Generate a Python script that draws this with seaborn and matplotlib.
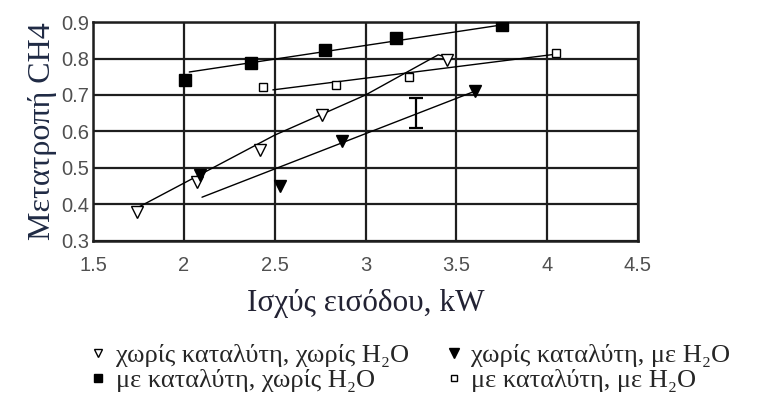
import numpy as np
import pandas as pd
import matplotlib
matplotlib.use("Agg")
import matplotlib.pyplot as plt
import seaborn as sns

# ---- data ----
s1_x = [1.74, 2.07, 2.42, 2.76, 3.45]          # χωρίς καταλύτη, χωρίς H2O (open ▽)
s1_y = [0.38, 0.462, 0.55, 0.645, 0.796]
s2_x = [2.09, 2.53, 2.87, 3.60]                # χωρίς καταλύτη, με H2O (filled ▼)
s2_y = [0.48, 0.45, 0.575, 0.71]
s3_x = [2.005, 2.37, 2.775, 3.17, 3.75]        # με καταλύτη, χωρίς H2O (filled ■)
s3_y = [0.741, 0.787, 0.823, 0.855, 0.892]
s4_x = [2.436, 2.84, 3.24, 4.05]               # με καταλύτη, με H2O (open □)
s4_y = [0.723, 0.727, 0.75, 0.814]

# trend lines as drawn in the figure
t1_x = [1.74, 2.5, 3.0, 3.40, 3.47]
t1_y = [0.39, 0.59, 0.70, 0.81, 0.80]
t2_x = [2.10, 3.60]
t2_y = [0.42, 0.71]
t3_x = [2.03, 3.75]
t3_y = [0.763, 0.892]
t4_x = [2.49, 4.05]
t4_y = [0.714, 0.812]

# error bar
err_x = 3.28
err_lo, err_hi = 0.609, 0.691

labels = ["χωρίς καταλύτη, χωρίς H₂O", "χωρίς καταλύτη, με H₂O",
          "με καταλύτη, χωρίς H₂O", "με καταλύτη, με H₂O"]
x_ticks = [1.5, 2, 2.5, 3, 3.5, 4, 4.5]
x_ticklabels = ["1.5", "2", "2.5", "3", "3.5", "4", "4.5"]
y_ticks = [0.3, 0.4, 0.5, 0.6, 0.7, 0.8, 0.9]
y_ticklabels = ["0.3", "0.4", "0.5", "0.6", "0.7", "0.8", "0.9"]
x_label = "Ισχύς εισόδου, kW"
y_label = "Μετατροπή CH4"

# ---- plot ----
sns.set_theme(style="white")
plt.rcParams["font.family"] = ["Liberation Serif", "DejaVu Serif"]

fig = plt.figure(figsize=(7.64, 4.18), dpi=100)
ax = fig.add_axes([93/764, 1-241/418, (638-93)/764, (241-22)/418])

for tx, ty in [(t1_x, t1_y), (t2_x, t2_y), (t3_x, t3_y), (t4_x, t4_y)]:
    sns.lineplot(x=tx, y=ty, ax=ax, color="black", lw=1.0, sort=False,
                 estimator=None, zorder=3)

styles = [
    (s1_x, s1_y, "v", "white", 8),
    (s2_x, s2_y, "v", "black", 9),
    (s3_x, s3_y, "s", "black", 8),
    (s4_x, s4_y, "s", "white", 6),
]
handles = []
for (sx, sy, m, fc, ms), lab in zip(styles, labels):
    ax.plot(sx, sy, linestyle="none", marker=m, markerfacecolor=fc,
            markeredgecolor="black", markersize=ms, markeredgewidth=1.0, zorder=4)
    h, = ax.plot([], [], linestyle="none", marker=m, markerfacecolor=fc,
                 markeredgecolor="black", markersize=ms*0.75, markeredgewidth=1.0,
                 label=lab)
    handles.append(h)

ax.errorbar([err_x], [(err_lo+err_hi)/2], yerr=[[(err_hi-err_lo)/2]],
            fmt="none", ecolor="black", elinewidth=1.6, capsize=5, capthick=1.6, zorder=4)

ax.set_xlim(1.5, 4.5)
ax.set_ylim(0.3, 0.9)
ax.set_xticks(x_ticks)
ax.set_xticklabels(x_ticklabels)
ax.set_yticks(y_ticks)
ax.set_yticklabels(y_ticklabels)
ax.grid(True, color="#1e1e1e", lw=1.6)
for sp in ax.spines.values():
    sp.set_color("#1e1e1e")
    sp.set_linewidth(1.8)
ax.tick_params(axis="both", length=0, labelsize=14.5, labelcolor="#505050")
ax.tick_params(axis="x", pad=11)
ax.tick_params(axis="y", pad=3)
for t in ax.get_xticklabels() + ax.get_yticklabels():
    t.set_family(["Liberation Sans", "DejaVu Sans"])

ax.set_xlabel(x_label, fontsize=22.5, color="#222233", labelpad=10)
ax.set_ylabel(y_label, fontsize=23, color="#1f2a44", labelpad=3)

order = [0, 2, 1, 3]
fig.legend([handles[i] for i in order], [labels[i] for i in order],
           loc="upper left", bbox_to_anchor=(80/764, 1-333/418), ncol=2,
           frameon=False, fontsize=19, handlelength=0.6, handletextpad=0.35,
           columnspacing=1.4, labelspacing=0.06, borderaxespad=0)

fig.savefig("out.png", dpi=100)
